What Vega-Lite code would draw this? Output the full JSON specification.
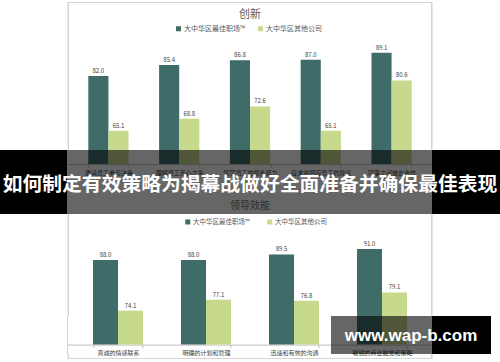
{
  "$schema": "https://vega.github.io/schema/vega-lite/v6.json",
  "background": "white",
  "padding": {"left": 0, "top": 2, "right": 0, "bottom": 0},
  "autosize": {"type": "pad"},
  "config": {
    "font": "Noto Sans CJK SC",
    "view": {"stroke": null},
    "concat": {"spacing": 0},
    "axisX": {
      "title": null,
      "labelAngle": 0,
      "labelFontSize": 6,
      "labelColor": "#404040",
      "domainColor": "#bfbfbf",
      "tickColor": "#bfbfbf",
      "tickBand": "extent",
      "tickSize": 3,
      "labelPadding": 2,
      "grid": false
    }
  },
  "datasets": {
    "innovation": [
      {"category": "邀请员工参与决策", "series": "大中华区最佳职场™", "value": 82.0},
      {"category": "邀请员工参与决策", "series": "大中华区其他公司", "value": 65.1},
      {"category": "理解员工无心之失", "series": "大中华区最佳职场™", "value": 85.4},
      {"category": "理解员工无心之失", "series": "大中华区其他公司", "value": 68.8},
      {"category": "赞赏员工的额外努力", "series": "大中华区最佳职场™", "value": 86.8},
      {"category": "赞赏员工的额外努力", "series": "大中华区其他公司", "value": 72.6},
      {"category": "征求并回应员工的建议", "series": "大中华区最佳职场™", "value": 87.0},
      {"category": "征求并回应员工的建议", "series": "大中华区其他公司", "value": 65.1},
      {"category": "同事之间彼此合作", "series": "大中华区最佳职场™", "value": 89.1},
      {"category": "同事之间彼此合作", "series": "大中华区其他公司", "value": 80.6}
    ],
    "leadership": [
      {"category": "真诚的情感联系", "series": "大中华区最佳职场™", "value": 88.0},
      {"category": "真诚的情感联系", "series": "大中华区其他公司", "value": 74.1},
      {"category": "明确的计划和管理", "series": "大中华区最佳职场™", "value": 88.0},
      {"category": "明确的计划和管理", "series": "大中华区其他公司", "value": 77.1},
      {"category": "迅速和有效的沟通", "series": "大中华区最佳职场™", "value": 89.5},
      {"category": "迅速和有效的沟通", "series": "大中华区其他公司", "value": 76.8},
      {"category": "敏锐的商业触觉和策略", "series": "大中华区最佳职场™", "value": 91.0},
      {"category": "敏锐的商业触觉和策略", "series": "大中华区其他公司", "value": 79.1}
    ],
    "frame": [{"part": "frame"}],
    "banner": [{"text": "如何制定有效策略为揭幕战做好全面准备并确保最佳表现"}],
    "watermark": [{"text": "www.wap-b.com"}]
  },
  "spacing": 0,
  "center": true,
  "bounds": "flush",
  "resolve": {"scale": {"color": "independent", "xOffset": "independent"}},
  "vconcat": [
    {
      "data": {"name": "frame"},
      "width": 365,
      "height": 32,
      "layer": [
        {"mark": {"type": "rect", "color": {"gradient": "linear", "x1": 0, "y1": 0, "x2": 0, "y2": 1, "stops": [
          {"offset": 0, "color": "#d4d4d4"}, {"offset": 0.031, "color": "#d4d4d4"},
          {"offset": 0.031, "color": "rgba(0,0,0,0)"}, {"offset": 1, "color": "rgba(0,0,0,0)"}
        ]}}},
        {"mark": {"type": "rect", "color": {"gradient": "linear", "x1": 0, "y1": 0, "x2": 1, "y2": 0, "stops": [
          {"offset": 0, "color": "#d4d4d4"}, {"offset": 0.003, "color": "#d4d4d4"},
          {"offset": 0.003, "color": "rgba(0,0,0,0)"}, {"offset": 0.997, "color": "rgba(0,0,0,0)"},
          {"offset": 0.997, "color": "#d4d4d4"}, {"offset": 1, "color": "#d4d4d4"}
        ]}}}
      ]
    },
    {
      "width": 365,
      "height": 115.4,
      "title": {"text": "创新", "fontSize": 11, "fontWeight": "normal", "color": "#595959", "offset": 5},
      "layer": [
        {
          "data": {"name": "frame"},
          "mark": {"type": "rect", "color": {"gradient": "linear", "x1": 0, "y1": 0, "x2": 1, "y2": 0, "stops": [
            {"offset": 0, "color": "#d4d4d4"}, {"offset": 0.003, "color": "#d4d4d4"},
            {"offset": 0.003, "color": "rgba(0,0,0,0)"}, {"offset": 0.997, "color": "rgba(0,0,0,0)"},
            {"offset": 0.997, "color": "#d4d4d4"}, {"offset": 1, "color": "#d4d4d4"}
          ]}}
        },
        {
          "data": {"name": "innovation"},
          "encoding": {
            "x": {"field": "category", "type": "nominal", "sort": null, "scale": {"paddingInner": 0.432, "paddingOuter": 0.294}, "axis": {"offset": 14.6}},
            "xOffset": {"field": "series", "type": "nominal", "sort": ["大中华区最佳职场™", "大中华区其他公司"]},
            "y": {"field": "value", "type": "quantitative", "scale": {"domain": [59.4, 94.9], "zero": false, "nice": false}, "axis": null}
          },
          "layer": [
            {
              "mark": {"type": "bar", "clip": false},
              "encoding": {
                "y2": {"datum": 54.9},
                "color": {
                  "field": "series", "type": "nominal",
                  "scale": {"domain": ["大中华区最佳职场™", "大中华区其他公司"], "range": ["#3f6b68", "#c6d98c"]},
                  "legend": {"orient": "none", "legendX": 107.5, "legendY": -9, "direction": "horizontal", "title": null, "symbolType": "square", "symbolSize": 25, "symbolStrokeWidth": 0, "labelFontSize": 7, "labelColor": "#595959", "columnPadding": 12, "labelOffset": 2}
                }
              }
            },
            {
              "mark": {"type": "text", "baseline": "bottom", "dy": -2, "fontSize": 6, "color": "#404040"},
              "encoding": {"text": {"field": "value", "type": "quantitative", "format": ".1f"}}
            }
          ]
        }
      ]
    },
    {
      "data": {"name": "banner"},
      "width": 500,
      "height": 64,
      "layer": [
        {
          "mark": {"type": "rect", "color": {"gradient": "linear", "x1": 0, "y1": 0, "x2": 1, "y2": 0, "stops": [
            {"offset": 0, "color": "#000000"},
            {"offset": 0.134, "color": "#000000"},
            {"offset": 0.134, "color": "rgba(0,0,0,0.6)"},
            {"offset": 0.864, "color": "rgba(0,0,0,0.6)"},
            {"offset": 0.864, "color": "#000000"},
            {"offset": 1, "color": "#000000"}
          ]}}
        },
        {
          "mark": {"type": "text", "fontSize": 19.8, "fontWeight": "bold", "color": "white", "dy": 3},
          "encoding": {"text": {"field": "text", "type": "nominal"}}
        }
      ]
    },
    {
      "width": 365,
      "height": 102,
      "title": {"text": "领导效能", "fontSize": 10, "fontWeight": "normal", "color": "#2b2b2b", "offset": 3},
      "layer": [
        {
          "data": {"name": "frame"},
          "mark": {"type": "rect", "color": {"gradient": "linear", "x1": 0, "y1": 0, "x2": 1, "y2": 0, "stops": [
            {"offset": 0, "color": "#d4d4d4"}, {"offset": 0.003, "color": "#d4d4d4"},
            {"offset": 0.003, "color": "rgba(0,0,0,0)"}, {"offset": 0.997, "color": "rgba(0,0,0,0)"},
            {"offset": 0.997, "color": "#d4d4d4"}, {"offset": 1, "color": "#d4d4d4"}
          ]}}
        },
        {
          "data": {"name": "leadership"},
          "encoding": {
            "x": {"field": "category", "type": "nominal", "sort": null, "scale": {"paddingInner": 0.432, "paddingOuter": 0.29}, "axis": {"offset": 28.6}},
            "xOffset": {"field": "series", "type": "nominal", "sort": ["大中华区最佳职场™", "大中华区其他公司"]},
            "y": {"field": "value", "type": "quantitative", "scale": {"domain": [72.63, 100.58], "zero": false, "nice": false}, "axis": null}
          },
          "layer": [
            {
              "mark": {"type": "bar", "clip": false},
              "encoding": {
                "y2": {"datum": 64.8},
                "color": {
                  "field": "series", "type": "nominal",
                  "scale": {"domain": ["大中华区最佳职场™", "大中华区其他公司"], "range": ["#3f6b68", "#c6d98c"]},
                  "legend": {"orient": "none", "legendX": 117, "legendY": 4.6, "direction": "horizontal", "title": null, "symbolType": "square", "symbolSize": 25, "symbolStrokeWidth": 0, "labelFontSize": 6.5, "labelColor": "#595959", "columnPadding": 16, "labelOffset": 2}
                }
              }
            },
            {
              "mark": {"type": "text", "baseline": "bottom", "dy": -2, "fontSize": 6, "color": "#404040"},
              "encoding": {"text": {"field": "value", "type": "quantitative", "format": ".1f"}}
            }
          ]
        }
      ]
    },
    {
      "data": {"name": "watermark"},
      "width": 500,
      "height": 38,
      "layer": [
        {
          "mark": {"type": "rect", "color": {"gradient": "linear", "x1": 0, "y1": 0, "x2": 1, "y2": 0, "stops": [
            {"offset": 0, "color": "rgba(0,0,0,0)"},
            {"offset": 0.134, "color": "rgba(0,0,0,0)"},
            {"offset": 0.134, "color": "#d4d4d4"},
            {"offset": 0.136, "color": "#d4d4d4"},
            {"offset": 0.136, "color": "rgba(0,0,0,0)"},
            {"offset": 1, "color": "rgba(0,0,0,0)"}
          ]}}
        },
        {
          "mark": {"type": "rect", "color": {"gradient": "linear", "x1": 0, "y1": 0, "x2": 1, "y2": 0, "stops": [
            {"offset": 0, "color": "rgba(0,0,0,0)"},
            {"offset": 0.662, "color": "rgba(0,0,0,0)"},
            {"offset": 0.662, "color": "rgba(0,0,0,0.6)"},
            {"offset": 0.864, "color": "rgba(0,0,0,0.6)"},
            {"offset": 0.864, "color": "#000000"},
            {"offset": 0.982, "color": "#000000"},
            {"offset": 0.982, "color": "rgba(0,0,0,0)"},
            {"offset": 1, "color": "rgba(0,0,0,0)"}
          ]}}
        },
        {
          "mark": {"type": "text", "fontSize": 17, "fontWeight": "bold", "font": "Liberation Sans", "color": "white", "dx": 161, "dy": 1},
          "encoding": {"text": {"field": "text", "type": "nominal"}}
        }
      ]
    },
    {
      "data": {"name": "frame"},
      "width": 365,
      "height": 5,
      "layer": [
        {"mark": {"type": "rect", "color": {"gradient": "linear", "x1": 0, "y1": 0, "x2": 0, "y2": 1, "stops": [
          {"offset": 0, "color": "rgba(0,0,0,0)"}, {"offset": 0.8, "color": "rgba(0,0,0,0)"},
          {"offset": 0.8, "color": "#d4d4d4"}, {"offset": 1, "color": "#d4d4d4"}
        ]}}},
        {"mark": {"type": "rect", "color": {"gradient": "linear", "x1": 0, "y1": 0, "x2": 1, "y2": 0, "stops": [
          {"offset": 0, "color": "#d4d4d4"}, {"offset": 0.003, "color": "#d4d4d4"},
          {"offset": 0.003, "color": "rgba(0,0,0,0)"}, {"offset": 0.997, "color": "rgba(0,0,0,0)"},
          {"offset": 0.997, "color": "#d4d4d4"}, {"offset": 1, "color": "#d4d4d4"}
        ]}}}
      ]
    }
  ]
}
